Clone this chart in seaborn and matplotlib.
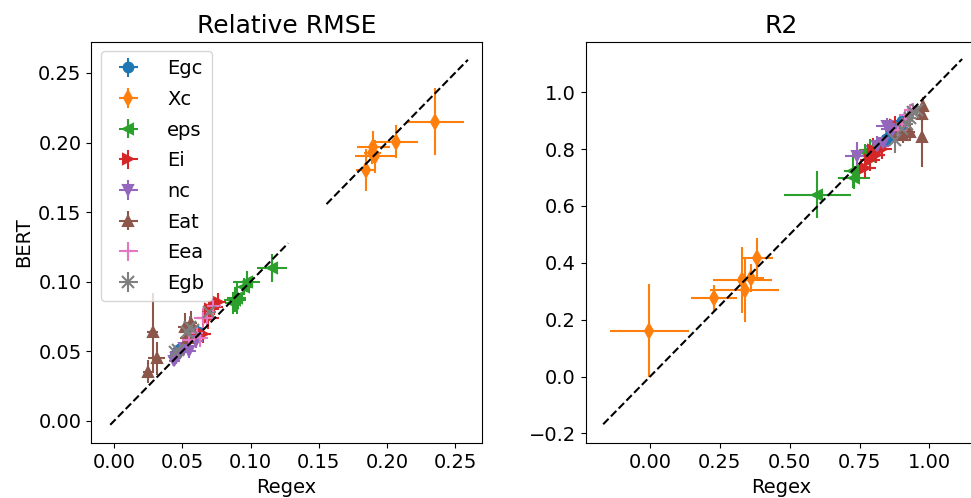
import numpy as np
import pandas as pd
import matplotlib
matplotlib.use("Agg")
import matplotlib.pyplot as plt
import seaborn as sns

# ---------------- data ----------------
properties = ["Egc", "Xc", "eps", "Ei", "nc", "Eat", "Eea", "Egb"]
markers = ["o", "d", "<", ">", "v", "^", "+", "x"]

# Relative RMSE (left panel): Regex (x) vs BERT (y)
rmse_x = {
    "Egc": [0.0616, 0.0470, 0.0520, 0.0450, 0.0560, 0.0490],
    "Xc":  [0.2356, 0.2065, 0.1850, 0.1900, 0.1910, 0.1894],
    "eps": [0.1154, 0.0971, 0.0951, 0.0885, 0.0872, 0.0897],
    "Ei":  [0.0731, 0.0689, 0.0762, 0.0600, 0.0650, 0.0700],
    "nc":  [0.0450, 0.0440, 0.0470, 0.0510, 0.0600, 0.0550],
    "Eat": [0.0281, 0.0310, 0.0249, 0.0518, 0.0543, 0.0560],
    "Eea": [0.0725, 0.0652, 0.0604, 0.0628, 0.0677, 0.0550],
    "Egb": [0.0697, 0.0555, 0.0445, 0.0530, 0.0580, 0.0470],
}
rmse_y = {
    "Egc": [0.0640, 0.0510, 0.0540, 0.0480, 0.0600, 0.0520],
    "Xc":  [0.2151, 0.2007, 0.1804, 0.1970, 0.1900, 0.1924],
    "eps": [0.1096, 0.1000, 0.0964, 0.0868, 0.0845, 0.0880],
    "Ei":  [0.0820, 0.0737, 0.0856, 0.0595, 0.0620, 0.0800],
    "nc":  [0.0450, 0.0430, 0.0470, 0.0520, 0.0570, 0.0500],
    "Eat": [0.0640, 0.0449, 0.0353, 0.0676, 0.0593, 0.0700],
    "Eea": [0.0822, 0.0737, 0.0629, 0.0593, 0.0737, 0.0580],
    "Egb": [0.0784, 0.0676, 0.0496, 0.0640, 0.0650, 0.0510],
}
rmse_xerr = {
    "Egc": [0.005, 0.004, 0.005, 0.004, 0.005, 0.004],
    "Xc":  [0.021, 0.016, 0.0073, 0.0122, 0.0147, 0.006],
    "eps": [0.011, 0.0098, 0.006, 0.008, 0.006, 0.007],
    "Ei":  [0.007, 0.008, 0.006, 0.007, 0.006, 0.006],
    "nc":  [0.004, 0.004, 0.004, 0.005, 0.005, 0.005],
    "Eat": [0.004, 0.006, 0.004, 0.005, 0.006, 0.005],
    "Eea": [0.006, 0.007, 0.006, 0.006, 0.006, 0.005],
    "Egb": [0.005, 0.006, 0.004, 0.005, 0.005, 0.004],
}
rmse_yerr = {
    "Egc": [0.005, 0.004, 0.005, 0.004, 0.005, 0.004],
    "Xc":  [0.024, 0.012, 0.015, 0.0115, 0.012, 0.008],
    "eps": [0.010, 0.0076, 0.006, 0.009, 0.008, 0.011],
    "Ei":  [0.006, 0.008, 0.006, 0.006, 0.006, 0.006],
    "nc":  [0.004, 0.004, 0.004, 0.005, 0.005, 0.005],
    "Eat": [0.028, 0.012, 0.008, 0.010, 0.008, 0.009],
    "Eea": [0.006, 0.007, 0.006, 0.006, 0.006, 0.005],
    "Egb": [0.006, 0.008, 0.004, 0.006, 0.007, 0.004],
}

# R2 (right panel)
r2_x = {
    "Egc": [0.845, 0.901, 0.898, 0.860, 0.880, 0.910],
    "Xc":  [-0.0025, 0.229, 0.330, 0.338, 0.360, 0.382],
    "eps": [0.599, 0.728, 0.730, 0.769, 0.787, 0.782],
    "Ei":  [0.797, 0.788, 0.770, 0.877, 0.830, 0.810],
    "nc":  [0.742, 0.814, 0.857, 0.848, 0.870, 0.832],
    "Eat": [0.978, 0.973, 0.973, 0.907, 0.930, 0.890],
    "Eea": [0.931, 0.913, 0.889, 0.920, 0.900, 0.940],
    "Egb": [0.955, 0.877, 0.931, 0.900, 0.940, 0.920],
}
r2_y = {
    "Egc": [0.836, 0.900, 0.888, 0.850, 0.870, 0.905],
    "Xc":  [0.161, 0.275, 0.340, 0.303, 0.346, 0.416],
    "eps": [0.640, 0.722, 0.699, 0.789, 0.797, 0.775],
    "Ei":  [0.798, 0.763, 0.734, 0.886, 0.800, 0.780],
    "nc":  [0.775, 0.812, 0.871, 0.880, 0.865, 0.820],
    "Eat": [0.953, 0.925, 0.843, 0.851, 0.860, 0.860],
    "Eea": [0.936, 0.921, 0.869, 0.900, 0.890, 0.940],
    "Egb": [0.939, 0.833, 0.910, 0.870, 0.930, 0.890],
}
r2_xerr = {
    "Egc": [0.02, 0.02, 0.02, 0.02, 0.02, 0.02],
    "Xc":  [0.142, 0.082, 0.105, 0.125, 0.047, 0.057],
    "eps": [0.120, 0.035, 0.057, 0.030, 0.040, 0.030],
    "Ei":  [0.040, 0.035, 0.040, 0.030, 0.035, 0.030],
    "nc":  [0.046, 0.040, 0.030, 0.040, 0.030, 0.030],
    "Eat": [0.010, 0.010, 0.010, 0.030, 0.020, 0.030],
    "Eea": [0.020, 0.020, 0.030, 0.020, 0.020, 0.015],
    "Egb": [0.020, 0.030, 0.020, 0.025, 0.020, 0.020],
}
r2_yerr = {
    "Egc": [0.02, 0.02, 0.02, 0.02, 0.02, 0.02],
    "Xc":  [0.163, 0.047, 0.115, 0.110, 0.050, 0.072],
    "eps": [0.082, 0.060, 0.040, 0.030, 0.040, 0.030],
    "Ei":  [0.040, 0.040, 0.035, 0.030, 0.035, 0.030],
    "nc":  [0.050, 0.035, 0.030, 0.030, 0.030, 0.030],
    "Eat": [0.030, 0.030, 0.105, 0.030, 0.030, 0.030],
    "Eea": [0.020, 0.020, 0.030, 0.020, 0.020, 0.015],
    "Egb": [0.020, 0.045, 0.020, 0.025, 0.020, 0.020],
}

# y = x reference segments
rmse_diag = [[-0.003, 0.1276], [0.1557, 0.2595]]
r2_diag = [[-0.168, 1.117]]

titles = ["Relative RMSE", "R2"]
xlabel = "Regex"
ylabel = "BERT"

# ---------------- style ----------------
sns.set_theme(style="ticks", context="notebook")
plt.rcParams.update({
    "font.family": ["DejaVu Sans"],
    "font.size": 14,
    "axes.titlesize": 18,
    "axes.labelsize": 14,
    "xtick.labelsize": 14,
    "ytick.labelsize": 14,
    "legend.fontsize": 14,
    "axes.edgecolor": "black",
    "axes.linewidth": 0.8,
    "xtick.major.width": 0.8,
    "ytick.major.width": 0.8,
    "xtick.major.size": 3.5,
    "ytick.major.size": 3.5,
    "xtick.color": "black",
    "ytick.color": "black",
    "axes.labelcolor": "black",
    "text.color": "black",
    "lines.linewidth": 1.5,
    "lines.markersize": 6,
    "axes.unicode_minus": True,
})
palette = sns.color_palette("tab10", len(properties))

fig = plt.figure(figsize=(9.71, 4.98), dpi=100)
W, H = 971.0, 498.0
ax1 = fig.add_axes([91.3 / W, (H - 443.3) / H, 390.4 / W, 401.6 / H])
ax2 = fig.add_axes([585.7 / W, (H - 443.3) / H, 390.4 / W, 401.6 / H])


def draw(ax, xs, ys, xe, ye, diags, title):
    for p, m, c in zip(properties, markers, palette):
        ax.errorbar(xs[p], ys[p], xerr=xe[p], yerr=ye[p], fmt=m, color=c,
                    label=p, markersize=7 if m not in ("+", "x") else 9,
                    mew=1.5)
    for seg in diags:
        d = pd.DataFrame({"x": seg, "y": seg})
        sns.lineplot(data=d, x="x", y="y", ax=ax, color="black",
                     linestyle="--", linewidth=1.5, zorder=5, legend=False)
    ax.set_title(title)
    ax.set_xlabel(xlabel)
    ax.set_ylabel("")


draw(ax1, rmse_x, rmse_y, rmse_xerr, rmse_yerr, rmse_diag, titles[0])
draw(ax2, r2_x, r2_y, r2_xerr, r2_yerr, r2_diag, titles[1])
ax1.set_ylabel(ylabel)

ax1.set_xlim(-0.0169, 0.2696)
ax1.set_ylim(-0.0163, 0.2725)
ax1.set_xticks([0.00, 0.05, 0.10, 0.15, 0.20, 0.25])
ax1.set_yticks([0.00, 0.05, 0.10, 0.15, 0.20, 0.25])

ax2.set_xlim(-0.2305, 1.167)
ax2.set_ylim(-0.235, 1.178)
ax2.set_xticks([0.00, 0.25, 0.50, 0.75, 1.00])
ax2.set_yticks([-0.2, 0.0, 0.2, 0.4, 0.6, 0.8, 1.0])

for ax in (ax1, ax2):
    leg = ax.get_legend()
    if leg is not None:
        leg.remove()

ax1.legend(loc="upper left", frameon=True, labelspacing=0.6,
           handletextpad=1.0)

fig.savefig("out.png", dpi=100)
